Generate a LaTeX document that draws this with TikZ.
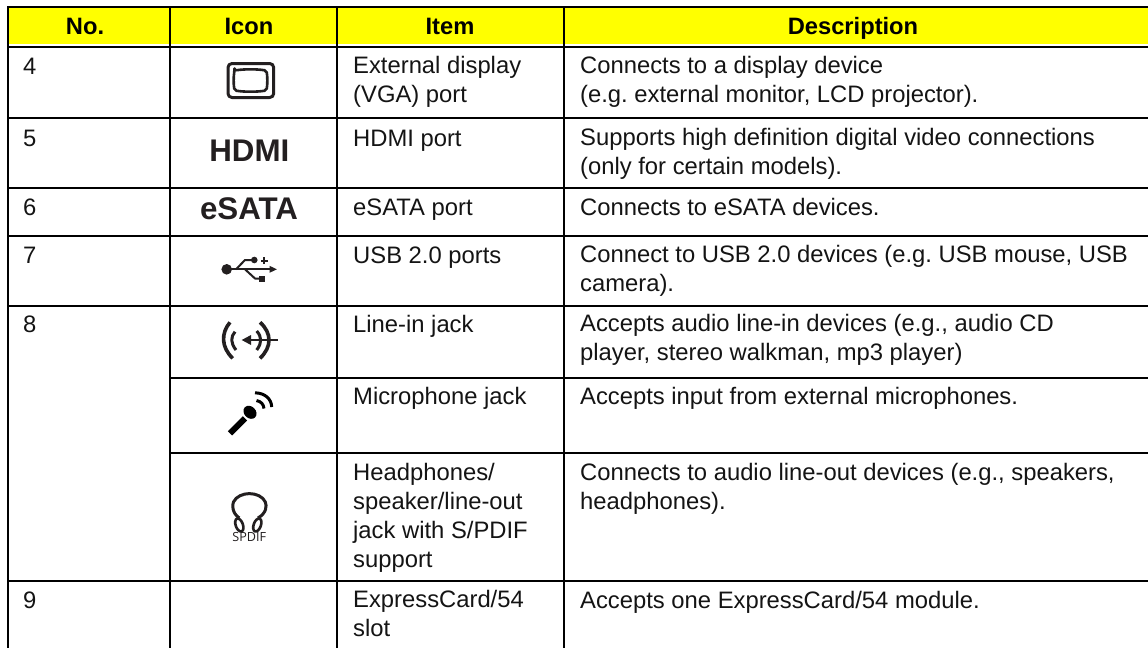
\documentclass[tikz,border=0pt]{standalone}
\usepackage{fontspec}
\setmainfont{Liberation Sans}
\newfontfamily\spdiffont{Open Sans}
\usetikzlibrary{arrows.meta}
\definecolor{hdrfill}{RGB}{255,255,0}
\definecolor{icondark}{RGB}{35,31,32}
\frenchspacing
\tikzset{
  x=1pt,y=-1pt,
  gridline/.style={black,line width=1.8pt},
  hdr/.style={font=\fontsize{23.7}{28}\selectfont\bfseries,anchor=base,inner sep=0pt},
  celltext/.style={font=\fontsize{23.8}{29}\selectfont,anchor=north west,inner sep=0pt,align=left,text=black!92,
    execute at begin node={\rule{0pt}{18pt}}},
  bigicon/.style={font=\fontsize{31.3}{34}\selectfont\bfseries,anchor=base,inner sep=0pt,text=icondark},
  iconline/.style={icondark,line cap=butt,line join=round},
}
\begin{document}
\begin{tikzpicture}
\useasboundingbox (0,0) rectangle (1148,648);
\fill[white] (0,0) rectangle (1148,648);
\fill[hdrfill] (8,8) rectangle (1148,43.5);
% header
\node[hdr] (h1) at (85,34) {No.};
\node[hdr] (h2) at (249,34) {Icon};
\node[hdr] (h3) at (450,34) {Item};
\node[hdr] (h4) at (853,34) {Description};
% grid
\draw[gridline] (7,7) -- (1148,7);
\draw[gridline] (7,47) -- (1148,47);
\draw[gridline] (7,118.300) -- (1148,118.300);
\draw[gridline] (7,187.700) -- (1148,187.700);
\draw[gridline] (7,235.700) -- (1148,235.700);
\draw[gridline] (7,306) -- (1148,306);
\draw[gridline] (170,377.700) -- (1148,377.700);
\draw[gridline] (170,452.700) -- (1148,452.700);
\draw[gridline] (7,580.700) -- (1148,580.700);
\draw[gridline] (7.700,6) -- (7.700,648);
\draw[gridline] (170,7) -- (170,648);
\draw[gridline] (337,7) -- (337,648);
\draw[gridline] (564,7) -- (564,648);
% numbers
\node[celltext] (n4) at (23,56) {4};
\node[celltext] (n5) at (23,128) {5};
\node[celltext] (n6) at (23,197) {6};
\node[celltext] (n7) at (23,245) {7};
\node[celltext] (n8) at (23,314) {8};
\node[celltext] (n9) at (23,590) {9};
% items
\node[celltext] (i4) at (353,56) {External display\\(VGA) port};
\node[celltext] (i5) at (353,128) {HDMI port};
\node[celltext] (i6) at (353,197) {eSATA port};
\node[celltext] (i7) at (353,245) {USB 2.0 ports};
\node[celltext] (i8) at (353,314) {Line-in jack};
\node[celltext] (i8b) at (353,386) {Microphone jack};
\node[celltext] (i8c) at (353,463) {Headphones/\\speaker/line-out\\jack with S/PDIF\\support};
\node[celltext] (i9) at (353,590) {ExpressCard/54\\slot};
% descriptions
\node[celltext] (d4) at (580,56) {Connects to a display device\\(e.g. external monitor, LCD projector).};
\node[celltext] (d5) at (580,128) {Supports high definition digital video connections\\(only for certain models).};
\node[celltext] (d6) at (580,197) {Connects to eSATA devices.};
\node[celltext] (d7) at (580,245) {Connect to USB 2.0 devices (e.g. USB mouse, USB\\camera).};
\node[celltext] (d8) at (580,314) {Accepts audio line-in devices (e.g., audio CD\\player, stereo walkman, mp3 player)};
\node[celltext] (d8b) at (580,386) {Accepts input from external microphones.};
\node[celltext] (d8c) at (580,463) {Connects to audio line-out devices (e.g., speakers,\\headphones).};
\node[celltext] (d9) at (580,590) {Accepts one ExpressCard/54 module.};
% text icons
\node[bigicon] (hdmi) at (249.300,161.700) {HDMI};
\node[bigicon] (esata) at (249,219.500) {eSATA};
% VGA icon
\draw[iconline,line width=3pt,rounded corners=4pt] (228,63.500) rectangle (273.700,97.500);
\draw[iconline,line width=2.6pt,rounded corners=2pt]
  (234.500,70.500) .. controls (245,69) and (256,69) .. (266.500,70.500)
  .. controls (267.500,77) and (267.500,84) .. (266.500,90.500)
  .. controls (256,92) and (245,92) .. (234.500,90.500)
  .. controls (233.500,84) and (233.500,77) .. (234.500,70.500) -- cycle;
% USB icon
\fill[icondark] (226.700,269.300) circle (5.300);
\draw[iconline,line width=2pt] (226.700,269.300) -- (271,269.300);
\fill[icondark] (276.900,269.300) -- (269.500,265.800) -- (269.500,272.800) -- cycle;
\draw[iconline,line width=2pt] (236,269.300) -- (245,260) -- (252,260);
\fill[icondark] (254.300,260) circle (3.300);
\draw[iconline,line width=2pt] (260.800,260.700) -- (267.800,260.700) (264.300,257.200) -- (264.300,264.200);
\draw[iconline,line width=2pt] (245,269.300) -- (255,278.500) -- (260,278.500);
\fill[icondark] (259,275.500) rectangle (265.200,281.700);
% Line-in icon
\draw[iconline,line width=3.6pt] (230,322.300) .. controls (221,333) and (221,347) .. (232.700,358.300);
\draw[iconline,line width=3pt] (235,331.700) .. controls (230.500,337) and (230.500,343) .. (236,350);
\draw[iconline,line width=3pt] (256.700,331) .. controls (262,337) and (262,343) .. (256.700,350);
\draw[iconline,line width=3.6pt] (260,322.300) .. controls (272,333) and (272,347) .. (260,358.300);
\draw[iconline,line width=2.6pt] (248,340) -- (278,340);
\fill[icondark] (241.700,340) -- (251,335) -- (251,345) -- cycle;
% Microphone icon
\draw[black,line width=6pt] (230,433.300) -- (245,418.300);
\fill[black,rotate around={-45:(250,412.300)}] (250,412.300) ellipse (7.200 and 5.800);
\draw[black,line width=3pt] (256.500,400.500) .. controls (261,401.500) and (263.500,404) .. (264,408.500);
\draw[black,line width=3pt] (255,392.800) .. controls (265,393) and (271.500,399) .. (271.700,407);
% Headphones icon
\draw[iconline,line width=3pt] (239.300,518) .. controls (232,513) and (232,505) .. (233.500,502)
  .. controls (236,496.500) and (243,493.600) .. (249.300,493.600)
  .. controls (256,493.600) and (263,496.500) .. (265.300,502)
  .. controls (267,506) and (266.500,513) .. (258,518);
\draw[iconline,line width=2.6pt,rotate around={20:(239.300,525)}] (239.300,525) ellipse (3.600 and 6.800);
\draw[iconline,line width=2.6pt,rotate around={-20:(257.300,525)}] (257.300,525) ellipse (3.600 and 6.800);
\node[anchor=base,inner sep=0pt,text=icondark,font=\spdiffont\fontsize{12.6}{14}\selectfont] (spdif) at (249.300,541) {SPDIF};
\end{tikzpicture}
\end{document}
